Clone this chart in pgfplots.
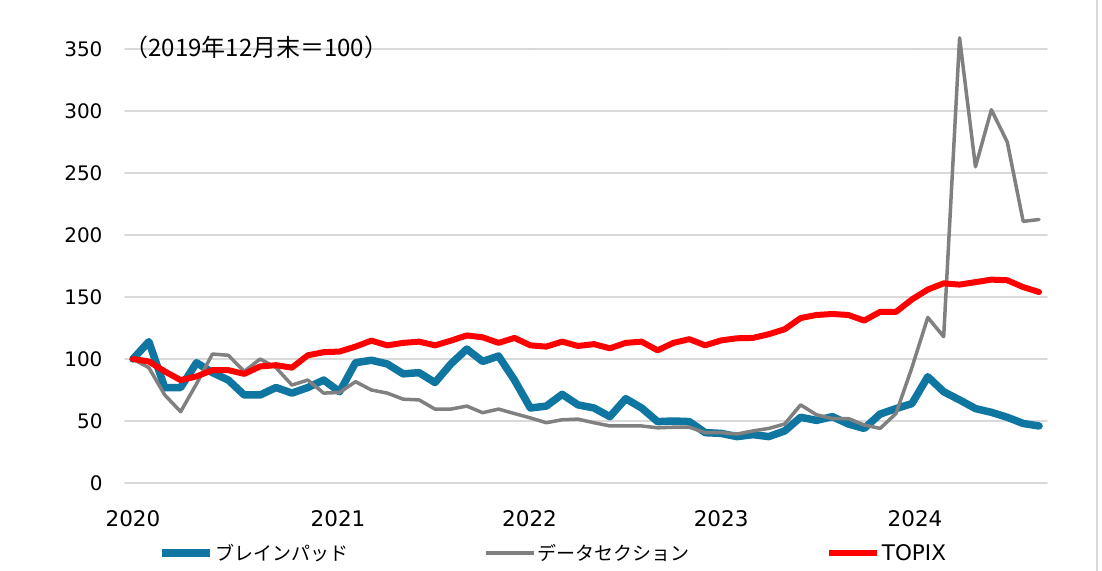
\documentclass[border=0pt]{standalone}
\usepackage{pgfplots}
\usepackage{pgfplotstable}
\pgfplotsset{compat=1.18}
\usepackage{fontspec}
\setmainfont{DejaVu Sans}
\newfontfamily\cjk{Noto Sans CJK JP}
\definecolor{bpblue}{RGB}{14,118,160}
\definecolor{dsgray}{RGB}{128,128,128}
\definecolor{tpred}{RGB}{255,0,0}
\definecolor{gridc}{RGB}{217,217,217}

\pgfplotstableread{
i b g r
0 100 100 100
1 114 93 98
2 77 71 90
3 77 57.5 83
4 97 80 86
5 89 104 91
6 83 103 91
7 71 90 88
8 71 100 94
9 77 93 95
10 72.5 79 93
11 77 83 103
12 83 72.5 105.5
13 73.6 73 106
14 97 81.7 110
15 99 75 114.8
16 96 72.5 111
17 88 67.6 113
18 89 67 114
19 81 59.6 111
20 96 59.6 114.8
21 108 62 119
22 98 56.7 117.5
23 102.4 59.6 113
24 83 56 117
25 60.5 52.5 111
26 62 48.6 110
27 71.5 51 114
28 63 51.5 110.5
29 60.5 48.6 112
30 53.5 46 108.6
31 68 46 113
32 60.5 46 114
33 49.5 44.5 107
34 50 45 113
35 49.5 45 116
36 40.6 40.6 111
37 40 40.6 115
38 37.4 39.5 116.7
39 39 42 117
40 37.4 44 120
41 42 47.6 124
42 53 63 133
43 50.5 55 135.5
44 53.5 52 136.3
45 47.6 52 135.5
46 44 46.8 131
47 55.6 44 138
48 60 56 138
49 64 93 148
50 85.7 133.5 156
51 73.6 118 161
52 67 359 160
53 60 255 162
54 57 301 164
55 53 275 163.5
56 48 211 158
57 46 212.5 154
}\datatable

\begin{document}
\begin{tikzpicture}
\path[use as bounding box] (0,0) rectangle (1102bp,571bp);
\draw[gridc, line width=1.5bp] (1097bp,0) -- (1097bp,571bp);
\begin{axis}[
  at={(125bp,88bp)}, anchor=south west,
  scale only axis,
  width=922bp, height=434bp,
  xmin=-0.5, xmax=57.5,
  ymin=0, ymax=350,
  clip=false,
  axis line style={draw=none},
  major tick length=0pt,
  ytick={0,50,...,350},
  ymajorgrids,
  grid style={gridc, line width=1.6bp},
  xtick={0,12.9,24.95,37,49.2},
  xticklabels={2020,2021,2022,2023,2024},
  /pgf/number format/assume math mode=true,
  yticklabel style={anchor=east, xshift=-19bp, font=\fontsize{20bp}{24bp}\selectfont},
  xticklabel style={anchor=north, yshift=-24bp, font=\fontsize{21.5bp}{25bp}\selectfont},
  legend columns=3,
  legend style={at={(0.4642,-0.161)}, anchor=center, draw=none, fill=none,
    font=\cjk\fontsize{19bp}{23bp}\selectfont,
    /tikz/every even column/.append style={column sep=134bp}},
  legend image code/.code={\draw[#1] (0bp,0bp) -- (48bp,0bp);},
  line join=round, line cap=round,
]
\addplot[bpblue, line width=7.5bp] table[x=i,y=b]{\datatable};
\addlegendentry{ブレインパッド}
\addplot[dsgray, line width=3.5bp] table[x=i,y=g]{\datatable};
\addlegendentry{データセクション}
\addplot[tpred, line width=6bp] table[x=i,y=r]{\datatable};
\addlegendentry{\fontspec{DejaVu Sans}\fontsize{21.5bp}{24bp}\selectfont TOPIX}
\node[anchor=west, inner sep=0pt, font=\cjk\fontsize{24bp}{28bp}\selectfont] at (axis cs:-0.55,351) {（2019年12月末＝100）};
\end{axis}
\end{tikzpicture}
\end{document}
